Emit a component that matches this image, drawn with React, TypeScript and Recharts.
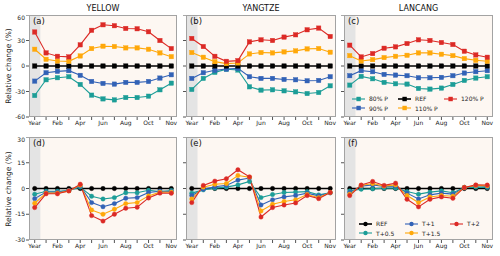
import { LineChart, Line, XAxis, YAxis, CartesianGrid, ReferenceArea } from "recharts";

// Categories on the x axis (Year + 12 months) and the labels printed under the ticks.
const MONTHS = ["Year", "Jan", "Feb", "Mar", "Apr", "May", "Jun", "Jul", "Aug", "Sep", "Oct", "Nov", "Dec"];
const X_TICK_LABELS = ["Year", "", "Feb", "", "Apr", "", "Jun", "", "Aug", "", "Oct", "", "Nov"];
const TOP_TICKS = [-60, -30, 0, 30, 60];
const BOTTOM_TICKS = [-30, -15, 0, 15, 30];

const P_NAMES = ["80% P", "90% P", "REF", "110% P", "120% P"];
const T_NAMES = ["REF", "T+0.5", "T+1", "T+1.5", "T+2"];

const TEAL = "#1c9d97";
const BLUE = "#3262b6";
const BLACK = "#000000";
const ORANGE = "#ffa80a";
const RED = "#dc2a26";
const P_COLORS = [TEAL, BLUE, BLACK, ORANGE, RED];
const T_COLORS = [BLACK, TEAL, BLUE, ORANGE, RED];

const REF_ZERO = [0, 0, 0, 0, 0, 0, 0, 0, 0, 0, 0, 0, 0];

// precipitation scenarios (top row)
const YELLOW_P80 = [-34.7, -16.2, -13.8, -12.6, -21.7, -34.3, -38.7, -39.9, -37.1, -37.1, -35.5, -28, -20.2];
const YELLOW_P90 = [-17.8, -7.9, -6.3, -5.5, -11, -18.2, -20.5, -21.3, -19.3, -19.3, -18.2, -14.2, -10.3];
const YELLOW_P110 = [19.7, 7.9, 5.9, 5.5, 11.8, 20.5, 23.3, 22.9, 21.3, 21.3, 19.7, 15.4, 11];
const YELLOW_P120 = [40, 15.4, 11.4, 10.7, 24.9, 42, 48.5, 47.4, 44.2, 43.8, 40.3, 30, 20.5];

const YANGTZE_P80 = [-27.6, -14.6, -7.5, -3.9, -4.7, -24.5, -28.4, -28, -29.2, -30.4, -32.4, -31.2, -23.3];
const YANGTZE_P90 = [-14.6, -7.9, -5.1, -3.6, -2.8, -12.6, -14.6, -14.6, -15.8, -16.2, -17.4, -17, -12.6];
const YANGTZE_P110 = [15.8, 10.3, 5.1, 2.8, 3.6, 14.2, 15.8, 15.4, 16.6, 17.8, 20.1, 20.5, 16.2];
const YANGTZE_P120 = [32.4, 22.9, 11.4, 5.5, 6.3, 28.4, 30.8, 30, 34, 36.7, 42.6, 44.6, 34.7];

const LANCANG_P80 = [-22.5, -12.2, -15, -19.3, -20.9, -21.3, -26.4, -27.2, -26, -21.7, -17, -14.2, -12.6];
const LANCANG_P90 = [-11.4, -5.5, -6.7, -9.9, -10.7, -11.4, -13.8, -13.8, -13.4, -11.4, -8.3, -6.7, -5.5];
const LANCANG_P110 = [12.2, 5.9, 7.5, 9.9, 11.4, 12.6, 15.4, 15.4, 13.8, 12.2, 8.7, 6.7, 5.5];
const LANCANG_P120 = [24.5, 10.7, 14.6, 20.9, 22.5, 26.4, 30.8, 30, 27.6, 25.3, 17.4, 13, 10.3];

// temperature scenarios (bottom row)
const YELLOW_T05 = [-3.3, -1.6, -1.6, -1.2, 0.8, -4.5, -6.1, -5.3, -2.5, -2.5, -1, -1.8, -1.2];
const YELLOW_T10 = [-5.9, -2.1, -2.1, -1.2, 1.4, -8.2, -10.6, -8.8, -5.7, -5.3, -2.3, -1.6, -1.8];
const YELLOW_T15 = [-8.6, -2.7, -2.7, -1.4, 2, -12.5, -15, -12.1, -8.8, -8.2, -4.3, -2.1, -2.2];
const YELLOW_T20 = [-11.1, -3.1, -3.1, -1.4, 2.5, -15.8, -19, -15, -11.5, -10.9, -5.5, -2.7, -2.8];

const YANGTZE_T05 = [-2.7, -0.8, 0.2, 0.8, 2.1, 4.1, -5.3, -3.5, -2.3, -2.1, -1.8, -3.7, -2.5];
const YANGTZE_T10 = [-4.1, -0.4, 1, 1.8, 4.9, 6.1, -9.6, -6.6, -4.9, -4.1, -2.7, -4.3, -2.5];
const YANGTZE_T15 = [-6.1, 0.8, 2.5, 2.9, 7.6, 6.6, -13.1, -9.2, -7.6, -6.6, -3.5, -5.3, -2.3];
const YANGTZE_T20 = [-8.2, 1.8, 4.3, 5.7, 10.9, 6.8, -16.6, -11.1, -9.6, -8.4, -4.1, -5.9, -2.3];

const LANCANG_T05 = [-1.4, -0.4, -0.2, 0.2, 0.2, -1.8, -3.3, -2.1, -1.4, -2.5, 0.6, 0.8, 0.6];
const LANCANG_T10 = [-2.3, 1.4, 2.1, 1.2, 1.4, -2.7, -6.1, -3.7, -2.7, -3.3, 0.6, 1.6, 1.2];
const LANCANG_T15 = [-3.3, 1.8, 2.9, 1.4, 2.1, -4.1, -8.2, -4.9, -4.1, -4.5, 0.6, 1.8, 1.6];
const LANCANG_T20 = [-4.1, 2, 4.1, 1.8, 3.1, -6.3, -10.7, -6.3, -4.9, -5.7, 0.6, 2.1, 2];

const FONT = "'DejaVu Sans', sans-serif";
const PLOT_BG = "#fdf7f2";
const SHADE = "#e4e4e4";
const FRAME = "#a3a3a3";

type Marker = "square" | "circle";

const YW = 29; // room for y tick labels
const XH = 12; // room for x tick labels
const RM = 4;

function squareDot(color: string, size: number) {
  return (props: any) => {
    const { cx, cy, index, dataKey } = props;
    if (cx == null || cy == null) return <g key={`${dataKey}-${index}`} />;
    return (
      <rect
        key={`${dataKey}-${index}`}
        x={cx - size / 2}
        y={cy - size / 2}
        width={size}
        height={size}
        fill={color}
        stroke={color}
        strokeWidth={0.4}
      />
    );
  };
}

function LegendGlyph({ color, marker }: { color: string; marker: Marker }) {
  return (
    <svg width={13} height={6} style={{ display: "block" }}>
      <line x1={0} y1={3} x2={13} y2={3} stroke={color} strokeWidth={color === BLACK ? 1.6 : 1.1} />
      {marker === "square" ? (
        <rect x={4.4} y={0.8} width={4.4} height={4.4} fill={color} />
      ) : (
        <circle cx={6.5} cy={3} r={2.2} fill={color} />
      )}
    </svg>
  );
}

function Panel({
  x,
  y,
  w,
  h,
  tag,
  title,
  names,
  colors,
  values,
  yTicks,
  showY,
  marker,
  legend,
}: {
  x: number;
  y: number;
  w: number;
  h: number;
  tag: string;
  title?: string;
  names: string[];
  colors: string[];
  values: number[][];
  yTicks: number[];
  showY: boolean;
  marker: Marker;
  legend?: { left: number; top: number; cols: number[]; rowGap: number };
}) {
  const yw = showY ? YW : 6;
  const data = MONTHS.map((m, i) => {
    const row: Record<string, number | string> = { i, month: m };
    values.forEach((v, k) => {
      row["s" + k] = v[i];
    });
    return row;
  });
  const dom = [yTicks[0], yTicks[yTicks.length - 1]];

  return (
    <>
      {title && (
        <div
          style={{
            position: "absolute",
            left: x,
            top: y - 11,
            width: w,
            textAlign: "center",
            fontSize: 8,
            lineHeight: "9px",
            fontFamily: FONT,
            color: "#111",
          }}
        >
          {title}
        </div>
      )}
      <div style={{ position: "absolute", left: x - yw, top: y }}>
        <LineChart
          width={w + yw + RM}
          height={h + XH}
          data={data}
          margin={{ top: 0, right: RM, bottom: 0, left: 0 }}
        >
          <CartesianGrid horizontal={false} vertical={false} fill={PLOT_BG} />
          <ReferenceArea x1={-0.5} x2={0.5} fill={SHADE} fillOpacity={1} stroke="none" ifOverflow="hidden" />
          <XAxis
            dataKey="i"
            type="number"
            domain={[-0.5, 12.5]}
            ticks={MONTHS.map((_, i) => i)}
            interval={0}
            allowDataOverflow
            tickFormatter={(v) => X_TICK_LABELS[Number(v)] ?? ""}
            tick={{ fontSize: 6, fill: "#222", fontFamily: FONT }}
            tickSize={3}
            tickMargin={1}
            tickLine={{ stroke: "#555" }}
            axisLine={false}
            height={XH}
          />
          <YAxis
            type="number"
            domain={dom}
            ticks={yTicks}
            allowDataOverflow
            tickFormatter={(v) => (showY ? String(v) : "")}
            tick={{ fontSize: 6, fill: "#222", fontFamily: FONT }}
            tickSize={3}
            tickMargin={1}
            tickLine={{ stroke: "#555" }}
            axisLine={false}
            width={yw}
          />
          {values.map((_, k) => (
            <Line
              key={names[k]}
              dataKey={"s" + k}
              name={names[k]}
              stroke={colors[k]}
              strokeWidth={colors[k] === BLACK ? 1.6 : 1.1}
              dot={
                marker === "square"
                  ? squareDot(colors[k], 4.4)
                  : { r: 2.2, fill: colors[k], stroke: colors[k], strokeWidth: 0.4 }
              }
              isAnimationActive={false}
              type="linear"
            />
          ))}
        </LineChart>
      </div>
      <div
        style={{
          position: "absolute",
          left: x,
          top: y,
          width: w,
          height: h,
          border: `1.2px solid ${FRAME}`,
          boxSizing: "border-box",
          pointerEvents: "none",
        }}
      />
      <div
        style={{
          position: "absolute",
          left: x + 4,
          top: y + 1,
          fontSize: 8.5,
          fontFamily: FONT,
          color: "#111",
        }}
      >
        {tag}
      </div>
      {legend &&
        names.map((n, k) => {
          const col = Math.floor(k / 2);
          const row = k % 2;
          return (
            <div
              key={n}
              style={{
                position: "absolute",
                left: x + legend.left + legend.cols[col],
                top: y + legend.top + row * legend.rowGap,
                display: "flex",
                alignItems: "center",
                fontSize: 6,
                fontFamily: FONT,
                color: "#222",
                lineHeight: "7px",
                whiteSpace: "nowrap",
              }}
            >
              <LegendGlyph color={colors[k]} marker={marker} />
              <span style={{ marginLeft: 4 }}>{n}</span>
            </div>
          );
        })}
    </>
  );
}

function YLabel({ cy }: { cy: number }) {
  return (
    <div
      style={{
        position: "absolute",
        left: 9 - 55,
        top: cy - 5,
        width: 110,
        height: 10,
        lineHeight: "10px",
        textAlign: "center",
        fontSize: 7.5,
        fontFamily: FONT,
        color: "#222",
        transform: "rotate(-90deg)",
      }}
    >
      Relative change (%)
    </div>
  );
}

export default function App() {
  const COLS = [
    { x: 29, w: 148 },
    { x: 186, w: 150 },
    { x: 344, w: 149 },
  ];
  const TOP = { y: 15, h: 102 };
  const BOT = { y: 137, h: 103 };

  return (
    <div
      style={{
        position: "absolute",
        left: 0,
        top: 0,
        width: 500,
        height: 256,
        background: "#fff",
        overflow: "hidden",
      }}
    >
      <YLabel cy={TOP.y + TOP.h / 2} />
      <YLabel cy={BOT.y + BOT.h / 2} />

      <Panel
        {...COLS[0]}
        {...TOP}
        tag="(a)"
        title="YELLOW"
        names={P_NAMES}
        colors={P_COLORS}
        values={[YELLOW_P80, YELLOW_P90, REF_ZERO, YELLOW_P110, YELLOW_P120]}
        yTicks={TOP_TICKS}
        showY
        marker="square"
      />
      <Panel
        {...COLS[1]}
        {...TOP}
        tag="(b)"
        title="YANGTZE"
        names={P_NAMES}
        colors={P_COLORS}
        values={[YANGTZE_P80, YANGTZE_P90, REF_ZERO, YANGTZE_P110, YANGTZE_P120]}
        yTicks={TOP_TICKS}
        showY={false}
        marker="square"
      />
      <Panel
        {...COLS[2]}
        {...TOP}
        tag="(c)"
        title="LANCANG"
        names={P_NAMES}
        colors={P_COLORS}
        values={[LANCANG_P80, LANCANG_P90, REF_ZERO, LANCANG_P110, LANCANG_P120]}
        yTicks={TOP_TICKS}
        showY={false}
        marker="square"
        legend={{ left: 8, top: 80, cols: [0, 46, 92], rowGap: 9.5 }}
      />

      <Panel
        {...COLS[0]}
        {...BOT}
        tag="(d)"
        names={T_NAMES}
        colors={T_COLORS}
        values={[REF_ZERO, YELLOW_T05, YELLOW_T10, YELLOW_T15, YELLOW_T20]}
        yTicks={BOTTOM_TICKS}
        showY
        marker="circle"
      />
      <Panel
        {...COLS[1]}
        {...BOT}
        tag="(e)"
        names={T_NAMES}
        colors={T_COLORS}
        values={[REF_ZERO, YANGTZE_T05, YANGTZE_T10, YANGTZE_T15, YANGTZE_T20]}
        yTicks={BOTTOM_TICKS}
        showY={false}
        marker="circle"
      />
      <Panel
        {...COLS[2]}
        {...BOT}
        tag="(f)"
        names={T_NAMES}
        colors={T_COLORS}
        values={[REF_ZERO, LANCANG_T05, LANCANG_T10, LANCANG_T15, LANCANG_T20]}
        yTicks={BOTTOM_TICKS}
        showY={false}
        marker="circle"
        legend={{ left: 15, top: 83, cols: [0, 46, 91], rowGap: 9.5 }}
      />
    </div>
  );
}
